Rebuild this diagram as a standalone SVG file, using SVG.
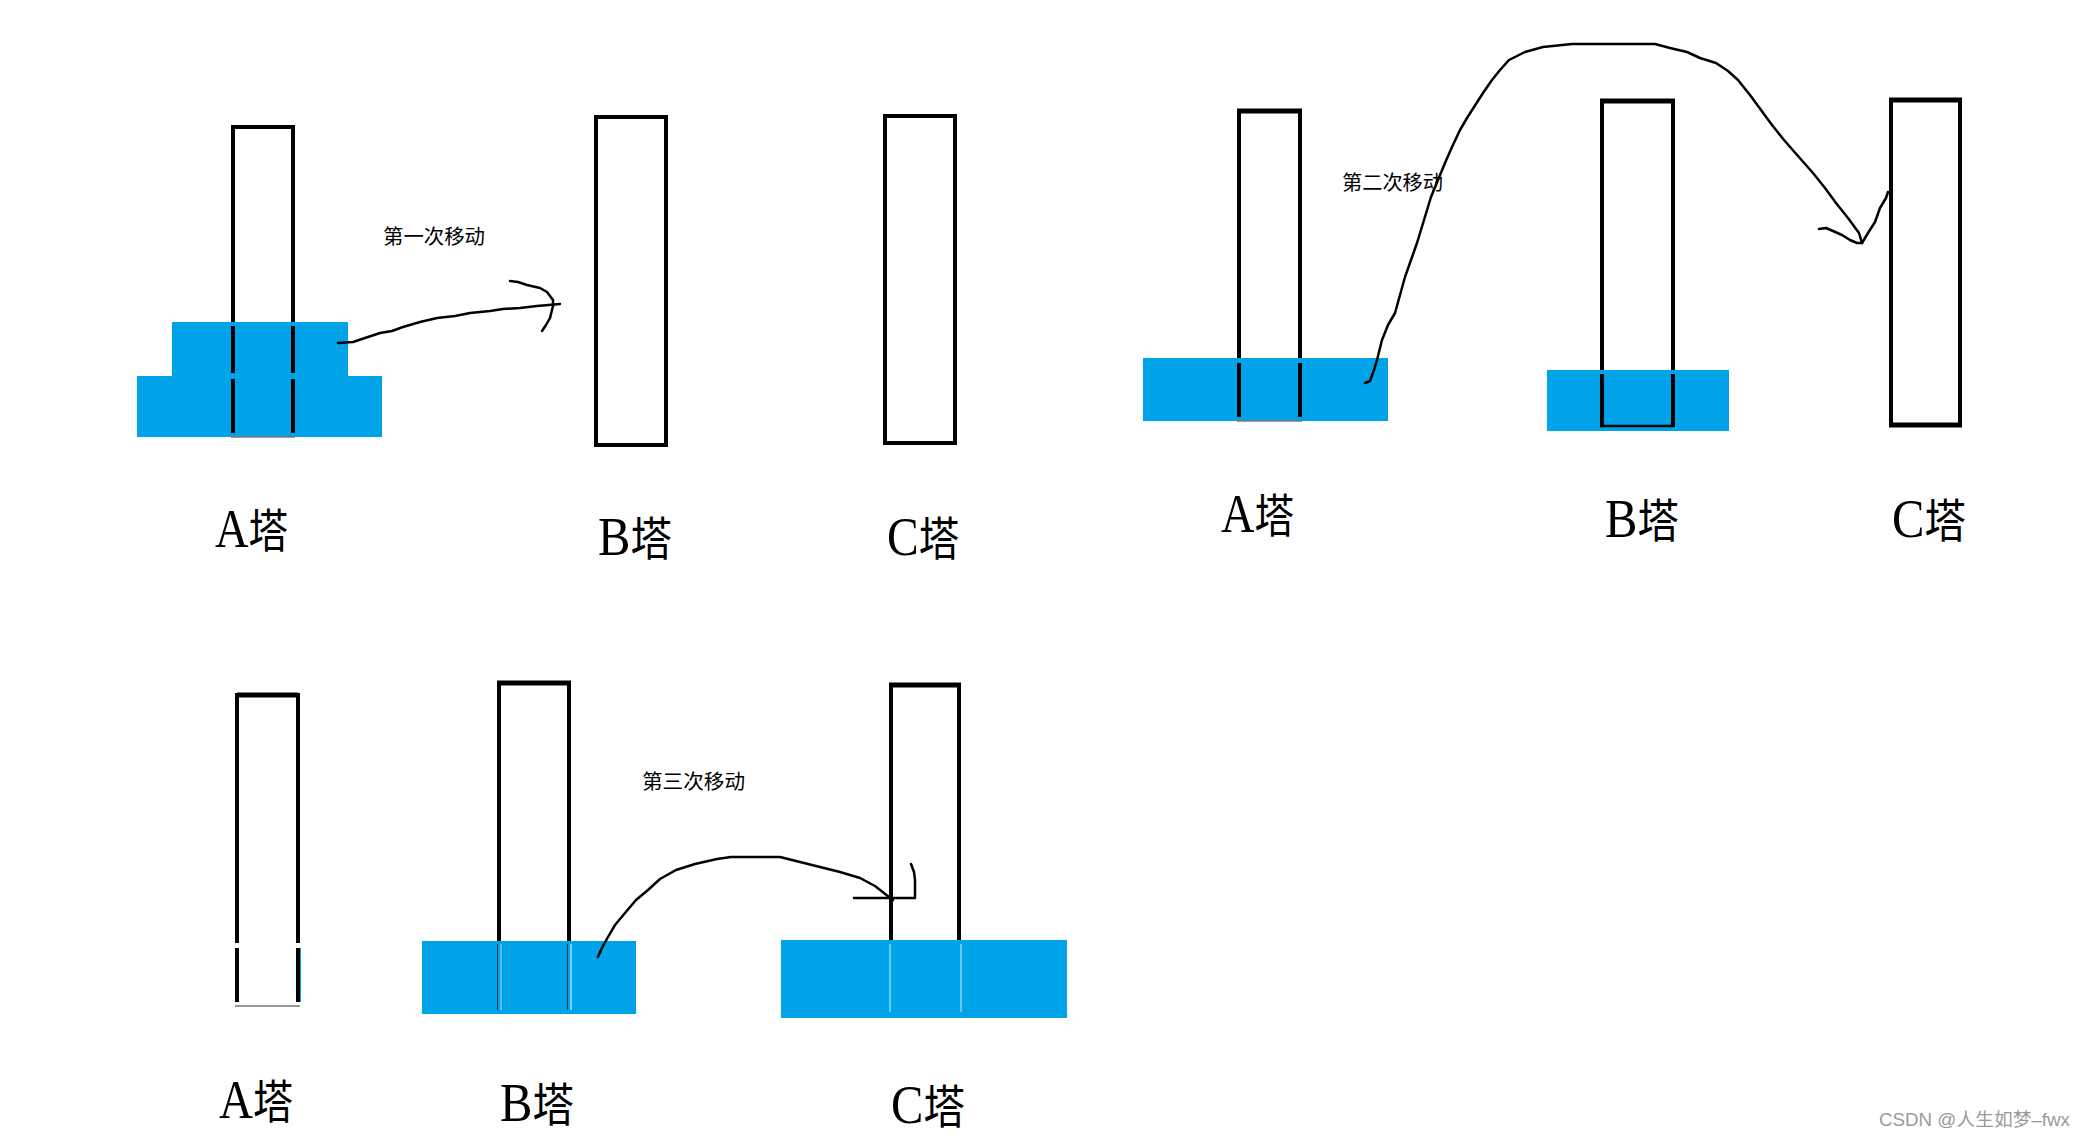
<svg xmlns="http://www.w3.org/2000/svg" width="2085" height="1140" viewBox="0 0 2085 1140">
  <style>
    .tower { fill: none; stroke: #000; stroke-width: 4; }
    .disk { fill: #00A2E8; stroke: none; }
    .pole { stroke: #000; stroke-width: 4; fill: none; }
    .thin { stroke-width: 1; fill: none; }
    .base { stroke: #777; stroke-width: 1.5; }
    .move { fill: none; stroke: #000; stroke-width: 2.5; stroke-linejoin: round; stroke-linecap: round; }
    .label { font-family: "Liberation Serif", "Noto Sans CJK SC", serif; font-size: 46px; fill: #000; }
    .lat { font-size: 54px; }
    .note { font-family: "Noto Sans CJK SC", sans-serif; font-size: 20px; fill: #000; }
    .mark { font-family: "Liberation Sans", "Noto Sans CJK SC", sans-serif; font-size: 18px; fill: #9a9a9a; }
  </style>
  <rect width="2085" height="1140" fill="#fff"/>

  <!-- Panel 1 -->
  <g id="p1-towerA">
    <rect class="tower" x="233" y="127" width="60" height="308"/>
    <rect class="disk" x="172" y="322" width="176" height="54"/>
    <rect class="disk" x="137" y="376" width="245" height="61"/>
    <path class="pole" d="M233,326 V373 M293,326 V373 M233,379 V433 M293,379 V433"/>
    <line class="base" x1="231" y1="437" x2="295" y2="437"/>
  </g>
  <g id="p1-towerB"><rect class="tower" x="596" y="117" width="70" height="328"/></g>
  <g id="p1-towerC"><rect class="tower" x="885" y="116" width="70" height="327"/></g>
  <g id="p1-labels">
    <text class="label" transform="translate(215,547) scale(0.86,1)"><tspan class="lat">A</tspan>塔</text>
    <text class="label" transform="translate(598,555) scale(0.9,1)"><tspan class="lat">B</tspan>塔</text>
    <text class="label" transform="translate(887,555) scale(0.88,1)"><tspan class="lat">C</tspan>塔</text>
  </g>
  <g id="p1-note"><text class="note" x="383" y="244" textLength="102" lengthAdjust="spacingAndGlyphs">第一次移动</text></g>

  <!-- Panel 2 -->
  <g id="p2-towerA">
    <rect class="tower" x="1239" y="111" width="61" height="308"/>
    <line x1="1237" y1="111" x2="1302" y2="111" stroke="#000" stroke-width="5"/>
    <rect class="disk" x="1143" y="358" width="245" height="63"/>
    <path class="pole" d="M1239,363 V417 M1300,363 V417"/>
    <line class="base" x1="1237" y1="421" x2="1302" y2="421"/>
  </g>
  <g id="p2-towerB">
    <rect class="tower" x="1602" y="101" width="71" height="325"/>
    <line x1="1600" y1="101" x2="1675" y2="101" stroke="#000" stroke-width="5"/>
    <rect class="disk" x="1547" y="370" width="182" height="61"/>
    <path class="pole" d="M1602,374 V427 M1673,374 V427"/>
    <line x1="1600" y1="426" x2="1675" y2="426" stroke="#000" stroke-width="2.5"/>
  </g>
  <g id="p2-towerC">
    <rect class="tower" x="1891" y="100" width="69" height="325"/>
    <line x1="1889" y1="100" x2="1962" y2="100" stroke="#000" stroke-width="5"/>
    <line x1="1889" y1="425" x2="1962" y2="425" stroke="#000" stroke-width="5"/>
  </g>
  <g id="p2-labels">
    <text class="label" transform="translate(1221,532) scale(0.86,1)"><tspan class="lat">A</tspan>塔</text>
    <text class="label" transform="translate(1605,537) scale(0.9,1)"><tspan class="lat">B</tspan>塔</text>
    <text class="label" transform="translate(1892,537) scale(0.9,1)"><tspan class="lat">C</tspan>塔</text>
  </g>
  <g id="p2-note"><text class="note" x="1342" y="190" textLength="101" lengthAdjust="spacingAndGlyphs">第二次移动</text></g>

  <!-- Panel 3 -->
  <g id="p3-towerA">
    <path class="pole" d="M237,943 V695 H298 V943 M237,948 V1002 M298,948 V1002"/>
    <line x1="237" y1="695" x2="298" y2="695" stroke="#000" stroke-width="5"/>
    <line x1="300.5" y1="948" x2="300.5" y2="1002" stroke="#00A2E8" stroke-width="1"/>
    <line class="base" x1="235" y1="1006" x2="300" y2="1006"/>
  </g>
  <g id="p3-towerB">
    <path class="pole" d="M499,942 V683 H569 V942"/>
    <line x1="497" y1="683" x2="571" y2="683" stroke="#000" stroke-width="5"/>
    <rect class="disk" x="422" y="941" width="214" height="73"/>
    <path class="thin" stroke="#0b3550" d="M497.5,944 V1010 M567.5,944 V1010"/>
    <path class="thin" stroke="#9fdcf7" d="M501,944 V1010"/>
    <path class="thin" stroke="#ffffff" d="M571,944 V1010"/>
  </g>
  <g id="p3-towerC">
    <path class="pole" d="M891,940 V685 H959 V940"/>
    <line x1="889" y1="685" x2="961" y2="685" stroke="#000" stroke-width="5"/>
    <rect class="disk" x="781" y="940" width="286" height="78"/>
    <path class="thin" stroke="#d8f2fc" d="M890,944 V1012 M961,944 V1012"/>
  </g>
  <g id="p3-labels">
    <text class="label" transform="translate(219,1118) scale(0.87,1)"><tspan class="lat">A</tspan>塔</text>
    <text class="label" transform="translate(500,1121) scale(0.9,1)"><tspan class="lat">B</tspan>塔</text>
    <text class="label" transform="translate(891,1123) scale(0.9,1)"><tspan class="lat">C</tspan>塔</text>
  </g>
  <g id="p3-note"><text class="note" x="642" y="789" textLength="103" lengthAdjust="spacingAndGlyphs">第三次移动</text></g>

  <!-- Connectors (hand-drawn move arrows) -->
  <g id="connectors">
    <path class="move" d="M338,343 L353,342 L365,338 L380,333 L392,331 L403,327 L420,322 L437,318 L455,316 L470,313 L490,311 L503,309 L520,308 L537,306 L560,304"/>
    <path class="move" d="M510,281 L518,282 L527,285 L540,288 L547,292 L553,300 L553,306 L550,318 L546,325 L542,331"/>
    <path class="move" d="M1365,383 L1370,381 L1374,370 L1377,360 L1382,340 L1388,325 L1395,313 L1400,295 L1405,277 L1411,260 L1417,243 L1424,220 L1431,197 L1438,180 L1445,163 L1452,147 L1460,130 L1467,118 L1474,107 L1483,93 L1492,80 L1500,70 L1509,60 L1525,52 L1543,47 L1572,44 L1655,44 L1670,48 L1687,52 L1700,58 L1716,63 L1728,71 L1738,80 L1750,95 L1761,110 L1772,125 L1784,140 L1798,156 L1813,173 L1825,188 L1836,203 L1848,218 L1859,233 L1862,243"/>
    <path class="move" d="M1819,229 L1826,228 L1833,231 L1842,235 L1850,240 L1857,243 L1862,243 L1868,233 L1875,222 L1880,208 L1886,198 L1888,192"/>
    <path class="move" d="M598,957 L601,950 L604,944 L608,937 L615,925 L625,913 L636,900 L648,890 L660,879 L676,870 L695,864 L717,859 L731,857 L780,857 L800,862 L820,867 L840,872 L860,878 L875,886 L889,897 L893,900"/>
    <path class="move" d="M854,898 L915,898 L915,880 L914,872 L911,864"/>
  </g>

  <text class="mark" x="1879" y="1126" textLength="191" lengthAdjust="spacingAndGlyphs">CSDN @人生如梦–fwx</text>
</svg>
